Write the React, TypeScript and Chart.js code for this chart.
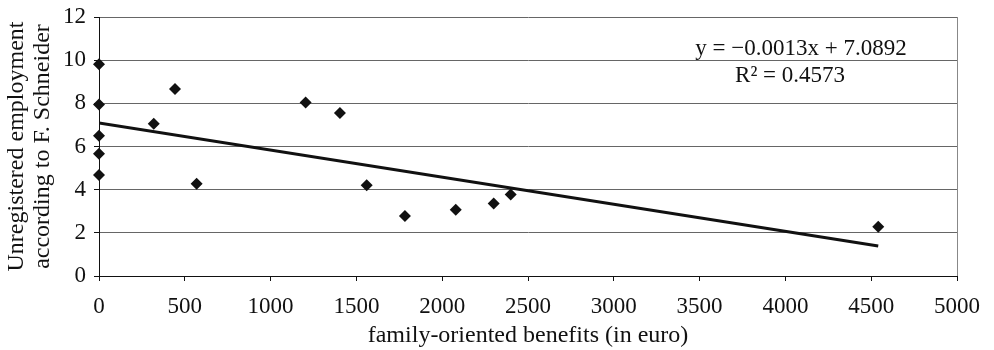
import React, { useEffect, useRef } from "react";
import { Chart, registerables } from "chart.js";

Chart.register(...registerables);

const benefitsX = [0, 0, 0, 0, 0, 319, 443, 569, 1204, 1404, 1560, 1783, 2079, 2300, 2399, 4541];
const employmentY = [9.81, 7.95, 6.5, 5.66, 4.68, 7.05, 8.66, 4.27, 8.04, 7.55, 4.2, 2.78, 3.07, 3.36, 3.78, 2.28];
const trendX = [0, 4541];
const trendY = [7.0892, 1.39];
const equationText = ["y = \u22120.0013x + 7.0892", "R\u00B2 = 0.4573"];
const equationPos = [
  [4091, 10.5],
  [4027, 9.25],
];
const xTitle = "family-oriented benefits (in euro)";
const yTitle = ["Unregistered employment", "according to F. Schneider"];

const FONT = "'Liberation Serif', 'Times New Roman', serif";

export default function App() {
  const ref = useRef<HTMLCanvasElement | null>(null);
  useEffect(() => {
    if (!ref.current) return;
    const eqPlugin = {
      id: "eq",
      afterDraw(chart: any) {
        const { ctx, scales } = chart;
        ctx.save();
        ctx.fillStyle = "#111";
        ctx.font = `23px ${FONT}`;
        ctx.textAlign = "center";
        ctx.textBaseline = "middle";
        equationText.forEach((t, i) => {
          const px = scales.x.getPixelForValue(equationPos[i][0]);
          const py = scales.y.getPixelForValue(equationPos[i][1]);
          ctx.fillText(t, px, py);
        });
        ctx.restore();
      },
    };
    const chart = new Chart(ref.current, {
      type: "scatter",
      data: {
        datasets: [
          {
            label: "data",
            data: benefitsX.map((x, i) => ({ x, y: employmentY[i] })),
            pointStyle: "rectRot",
            pointRadius: 6,
            backgroundColor: "#111",
            borderColor: "#111",
            borderWidth: 0,
            clip: false as any,
          },
          {
            label: "trend",
            type: "line" as any,
            data: trendX.map((x, i) => ({ x, y: trendY[i] })),
            showLine: true,
            pointRadius: 0,
            borderColor: "#111",
            borderWidth: 3,
            fill: false,
          } as any,
        ],
      },
      options: {
        animation: false,
        responsive: false,
        maintainAspectRatio: false,
        layout: { padding: { left: 0, top: 17, right: 37, bottom: 0 } },
        plugins: { legend: { display: false }, tooltip: { enabled: false } },
        scales: {
          x: {
            type: "linear",
            min: 0,
            max: 5000,
            ticks: {
              stepSize: 500,
              color: "#111",
              font: { family: FONT, size: 23 },
              padding: 12,
              maxRotation: 0,
              callback: (v: any) => String(v),
            },
            grid: {
              drawOnChartArea: true,
              color: (c: any) => (c.tick && c.tick.value === 5000 ? "#888" : "rgba(0,0,0,0)"),
              tickColor: "#111",
              tickLength: 5,
            },
            border: { display: true, color: "#111", width: 1 },
            title: {
              display: true,
              text: xTitle,
              color: "#111",
              font: { family: FONT, size: 24, lineHeight: 1.2 },
              padding: { top: 0, bottom: 0 },
            },
            afterFit: (s: any) => {
              s.height = 74;
              s.paddingLeft = 0;
              s.paddingRight = 0;
            },
          },
          y: {
            type: "linear",
            min: 0,
            max: 12,
            ticks: {
              stepSize: 2,
              color: "#111",
              font: { family: FONT, size: 23 },
              padding: 8,
              callback: (v: any) => String(v),
            },
            grid: {
              color: "#666",
              tickColor: "#111",
              tickLength: 5,
            },
            border: { display: true, color: "#111", width: 1 },
            title: {
              display: true,
              text: yTitle,
              color: "#111",
              font: { family: FONT, size: 24, lineHeight: 1.08 },
              padding: { top: 4, bottom: 0 },
            },
            afterFit: (s: any) => {
              s.width = 99;
              s.paddingTop = 0;
              s.paddingBottom = 0;
            },
          },
        },
      },
      plugins: [eqPlugin],
    });
    return () => chart.destroy();
  }, []);
  return (
    <div style={{ position: "fixed", left: 0, top: 0, width: 994, height: 350, background: "#fff" }}>
      <canvas ref={ref} width={994} height={350} style={{ width: 994, height: 350, display: "block" }} />
    </div>
  );
}
